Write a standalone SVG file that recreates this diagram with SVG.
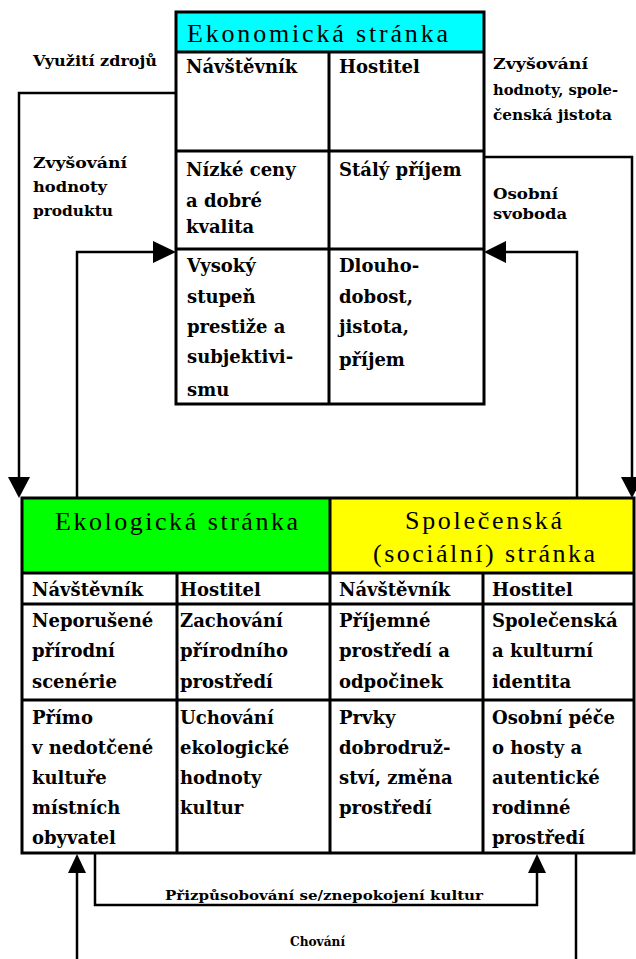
<svg xmlns="http://www.w3.org/2000/svg" width="636" height="959" viewBox="0 0 636 959">
<style>
.b{fill:none;stroke:#000;stroke-width:3}
.c{fill:none;stroke:#000;stroke-width:2.5}
.h{font-family:"Liberation Serif","Times New Roman",serif;font-size:26px;fill:#000}
.t{font-family:"DejaVu Serif","Liberation Serif",serif;font-weight:bold;font-size:18px;fill:#000}
.l{font-family:"DejaVu Serif","Liberation Serif",serif;font-weight:bold;font-size:14px;fill:#000}
.s{font-family:"DejaVu Serif","Liberation Serif",serif;font-weight:bold;font-size:12px;fill:#000}
.a{fill:#000}
</style>
<rect width="636" height="959" fill="#fff"/>
<g id="connectors">
<polyline class="c" points="176,93 19,93 19,478"/>
<polygon class="a" points="8,477 30,477 19,498"/>
<polyline class="c" points="77,498 77,252 154,252"/>
<polygon class="a" points="153,241 153,263 176,252"/>
<polyline class="c" points="484,157 632,157 632,478"/>
<polygon class="a" points="621,477 643,477 632,498"/>
<polyline class="c" points="577,498 577,252 505,252"/>
<polygon class="a" points="506,241 506,263 484,252"/>
<polyline class="c" points="77,959 77,872"/>
<polygon class="a" points="68,873 86,873 77,854"/>
<polyline class="c" points="95,853 95,905 537,905 537,872"/>
<polygon class="a" points="528,873 546,873 537,854"/>
<polyline class="c" points="576,853 576,959"/>
</g>
<g id="label-vyuziti"><text class="l" x="33" y="66" textLength="124" lengthAdjust="spacingAndGlyphs">Využití zdrojů</text></g>
<g id="label-zvysovani-produktu"><text class="l" x="33" y="168" textLength="94" lengthAdjust="spacingAndGlyphs">Zvyšování</text><text class="l" x="33" y="192" textLength="74" lengthAdjust="spacingAndGlyphs">hodnoty</text><text class="l" x="33" y="216" textLength="80" lengthAdjust="spacingAndGlyphs">produktu</text></g>
<g id="label-zvysovani-jistota"><text class="l" x="493" y="69" textLength="95" lengthAdjust="spacingAndGlyphs">Zvyšování</text><text class="l" x="493" y="95" textLength="125" lengthAdjust="spacingAndGlyphs">hodnoty, spole-</text><text class="l" x="493" y="120" textLength="119" lengthAdjust="spacingAndGlyphs">čenská jistota</text></g>
<g id="label-svoboda"><text class="l" x="493" y="199" textLength="65" lengthAdjust="spacingAndGlyphs">Osobní</text><text class="l" x="493" y="219" textLength="74" lengthAdjust="spacingAndGlyphs">svoboda</text></g>
<g id="label-prizpusobovani"><text class="s" x="165" y="900" textLength="318" lengthAdjust="spacingAndGlyphs">Přizpůsobování se/znepokojení kultur</text></g>
<g id="label-chovani"><text class="s" x="290" y="946" textLength="55" lengthAdjust="spacingAndGlyphs">Chování</text></g>
<g id="ekonomicka">
<rect x="176" y="12" width="308" height="40" fill="#00ffff"/>
<rect class="b" x="176" y="12" width="308" height="392"/>
<line class="b" x1="176" y1="52" x2="484" y2="52"/>
<line class="b" x1="176" y1="151" x2="484" y2="151"/>
<line class="b" x1="176" y1="249" x2="484" y2="249"/>
<line class="b" x1="329" y1="52" x2="329" y2="404"/>
<text class="h" x="187" y="42" textLength="261" lengthAdjust="spacing">Ekonomická stránka</text>
<text class="t" x="186" y="73">Návštěvník</text>
<text class="t" x="339" y="73">Hostitel</text>
<text class="t" x="186" y="176">Nízké ceny</text>
<text class="t" x="186" y="207">a dobré</text>
<text class="t" x="186" y="233">kvalita</text>
<text class="t" x="339" y="176">Stálý příjem</text>
<text class="t" x="187" y="272">Vysoký</text>
<text class="t" x="187" y="303">stupeň</text>
<text class="t" x="187" y="333">prestiže a</text>
<text class="t" x="187" y="363">subjektivi-</text>
<text class="t" x="187" y="396">smu</text>
<text class="t" x="339" y="272">Dlouho-</text>
<text class="t" x="339" y="303">dobost,</text>
<text class="t" x="339" y="333">jistota,</text>
<text class="t" x="339" y="366">příjem</text>
</g>
<g id="ekologicka">
<rect x="22" y="498" width="308" height="75" fill="#00ff00"/>
<text class="h" x="55" y="530" textLength="243" lengthAdjust="spacing">Ekologická stránka</text>
<text class="t" x="32" y="596">Návštěvník</text>
<text class="t" x="180" y="596">Hostitel</text>
<text class="t" x="32" y="627">Neporušené</text>
<text class="t" x="32" y="657">přírodní</text>
<text class="t" x="32" y="688">scenérie</text>
<text class="t" x="180" y="627">Zachování</text>
<text class="t" x="180" y="657">přírodního</text>
<text class="t" x="180" y="688">prostředí</text>
<text class="t" x="32" y="724">Přímo</text>
<text class="t" x="32" y="754">v nedotčené</text>
<text class="t" x="32" y="784">kultuře</text>
<text class="t" x="32" y="814">místních</text>
<text class="t" x="32" y="844">obyvatel</text>
<text class="t" x="180" y="724">Uchování</text>
<text class="t" x="180" y="754">ekologické</text>
<text class="t" x="180" y="784">hodnoty</text>
<text class="t" x="180" y="814">kultur</text>
</g>
<g id="spolecenska">
<rect x="330" y="498" width="304" height="75" fill="#ffff00"/>
<text class="h" x="405" y="529" textLength="157" lengthAdjust="spacing">Společenská</text>
<text class="h" x="373" y="562" textLength="222" lengthAdjust="spacing">(sociální) stránka</text>
<text class="t" x="339" y="596">Návštěvník</text>
<text class="t" x="492" y="596">Hostitel</text>
<text class="t" x="339" y="627">Příjemné</text>
<text class="t" x="339" y="657">prostředí a</text>
<text class="t" x="339" y="688">odpočinek</text>
<text class="t" x="492" y="627">Společenská</text>
<text class="t" x="492" y="657">a kulturní</text>
<text class="t" x="492" y="688">identita</text>
<text class="t" x="339" y="724">Prvky</text>
<text class="t" x="339" y="754">dobrodruž-</text>
<text class="t" x="339" y="784">ství, změna</text>
<text class="t" x="339" y="814">prostředí</text>
<text class="t" x="492" y="724">Osobní péče</text>
<text class="t" x="492" y="754">o hosty a</text>
<text class="t" x="492" y="784">autentické</text>
<text class="t" x="492" y="814">rodinné</text>
<text class="t" x="492" y="844">prostředí</text>
</g>
<g id="bottom-grid">
<rect class="b" x="22" y="498" width="612" height="355"/>
<line class="b" x1="22" y1="573" x2="634" y2="573"/>
<line class="b" x1="22" y1="604" x2="634" y2="604"/>
<line class="b" x1="22" y1="700" x2="634" y2="700"/>
<line class="b" x1="330" y1="498" x2="330" y2="853"/>
<line class="b" x1="177" y1="573" x2="177" y2="853"/>
<line class="b" x1="483" y1="573" x2="483" y2="853"/>
</g>
</svg>
